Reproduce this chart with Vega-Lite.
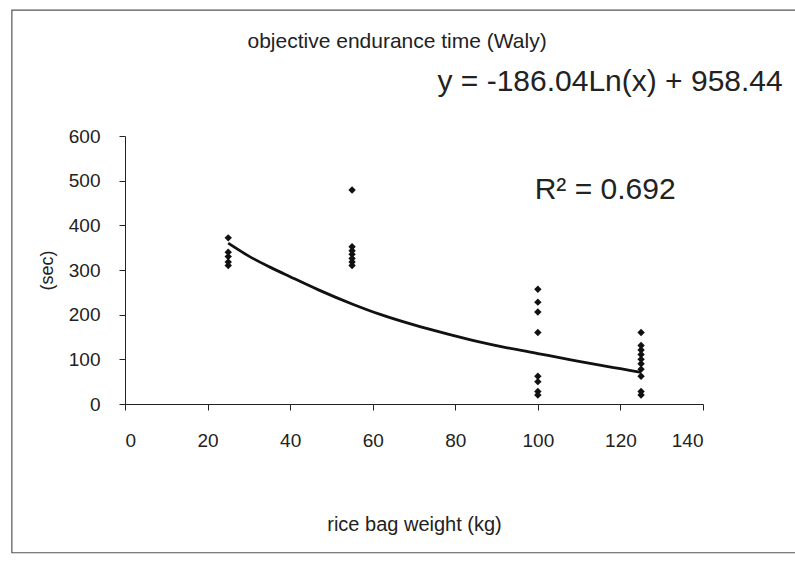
{
  "$schema": "https://vega.github.io/schema/vega-lite/v6.json",
  "width": 578,
  "height": 268,
  "autosize": {"type": "none"},
  "padding": {"left": 125, "top": 136, "right": 92, "bottom": 158},
  "background": "white",
  "config": {
    "view": {"stroke": null},
    "font": "Liberation Sans",
    "axis": {"grid": false, "domainColor": "#222", "tickColor": "#222", "labelColor": "#222", "titleColor": "#222", "labelFont": "Liberation Sans", "titleFont": "Liberation Sans", "titleFontWeight": "normal"}
  },
  "datasets": {
    "points": [
      {"weight": 25, "time": 372}, {"weight": 25, "time": 340}, {"weight": 25, "time": 330}, {"weight": 25, "time": 318}, {"weight": 25, "time": 310},
      {"weight": 55, "time": 479}, {"weight": 55, "time": 352}, {"weight": 55, "time": 343}, {"weight": 55, "time": 335}, {"weight": 55, "time": 326}, {"weight": 55, "time": 318}, {"weight": 55, "time": 310},
      {"weight": 100, "time": 257}, {"weight": 100, "time": 228}, {"weight": 100, "time": 206}, {"weight": 100, "time": 160}, {"weight": 100, "time": 62}, {"weight": 100, "time": 50}, {"weight": 100, "time": 28}, {"weight": 100, "time": 20},
      {"weight": 125, "time": 160}, {"weight": 125, "time": 131}, {"weight": 125, "time": 121}, {"weight": 125, "time": 111}, {"weight": 125, "time": 100}, {"weight": 125, "time": 90}, {"weight": 125, "time": 78}, {"weight": 125, "time": 62}, {"weight": 125, "time": 28}, {"weight": 125, "time": 20}
    ],
    "trend": [
      {"weight": 25, "time": 360}, {"weight": 30, "time": 331}, {"weight": 35, "time": 307}, {"weight": 40, "time": 285},
      {"weight": 47, "time": 255}, {"weight": 55, "time": 224}, {"weight": 62, "time": 200}, {"weight": 70, "time": 177},
      {"weight": 78, "time": 157}, {"weight": 85, "time": 141}, {"weight": 92, "time": 127}, {"weight": 100, "time": 113},
      {"weight": 108, "time": 99}, {"weight": 115, "time": 87}, {"weight": 120, "time": 79}, {"weight": 125, "time": 71}
    ],
    "notes": [
      {"label": "objective endurance time (Waly)", "weight": 65.9, "time": 810, "size": 21},
      {"label": "y = -186.04Ln(x) + 958.44", "weight": 117.5, "time": 721, "size": 30},
      {"label": "R² = 0.692", "weight": 116.3, "time": 479, "size": 30}
    ],
    "frame": [
      {"x1": -27.4, "x2": 170, "y1": -333, "y2": 882}
    ]
  },
  "layer": [
    {
      "data": {"name": "frame"},
      "mark": {"type": "rect", "fill": null, "stroke": "#555", "strokeWidth": 1.2, "clip": false},
      "encoding": {
        "x": {"field": "x1", "type": "quantitative", "scale": {"domain": [0, 140], "nice": false}},
        "x2": {"field": "x2"},
        "y": {"field": "y1", "type": "quantitative", "scale": {"domain": [0, 600], "nice": false}},
        "y2": {"field": "y2"}
      }
    },
    {
      "data": {"name": "points"},
      "mark": {"type": "point", "shape": "diamond", "filled": true, "color": "#111", "size": 55, "opacity": 1},
      "encoding": {
        "x": {"field": "weight", "type": "quantitative", "scale": {"domain": [0, 140], "nice": false},
          "axis": {"title": "rice bag weight (kg)", "values": [0, 20, 40, 60, 80, 100, 120, 140], "tickSize": 6, "labelFontSize": 19, "labelPadding": 21, "labelDx": 3, "titleFontSize": 20, "titlePadding": 64}},
        "y": {"field": "time", "type": "quantitative", "scale": {"domain": [0, 600], "nice": false},
          "axis": {"title": "(sec)", "values": [0, 100, 200, 300, 400, 500, 600], "tickSize": 6, "labelFontSize": 19, "labelPadding": 19, "titleFontSize": 18, "titlePadding": 12}}
      }
    },
    {
      "data": {"name": "trend"},
      "mark": {"type": "line", "color": "#111", "strokeWidth": 2.8, "interpolate": "monotone"},
      "encoding": {
        "x": {"field": "weight", "type": "quantitative"},
        "y": {"field": "time", "type": "quantitative"}
      }
    },
    {
      "data": {"name": "notes"},
      "mark": {"type": "text", "color": "#222", "align": "center", "baseline": "middle", "clip": false, "font": "Liberation Sans"},
      "encoding": {
        "x": {"field": "weight", "type": "quantitative"},
        "y": {"field": "time", "type": "quantitative"},
        "text": {"field": "label"},
        "size": {"field": "size", "type": "quantitative", "scale": null, "legend": null}
      }
    }
  ]
}
